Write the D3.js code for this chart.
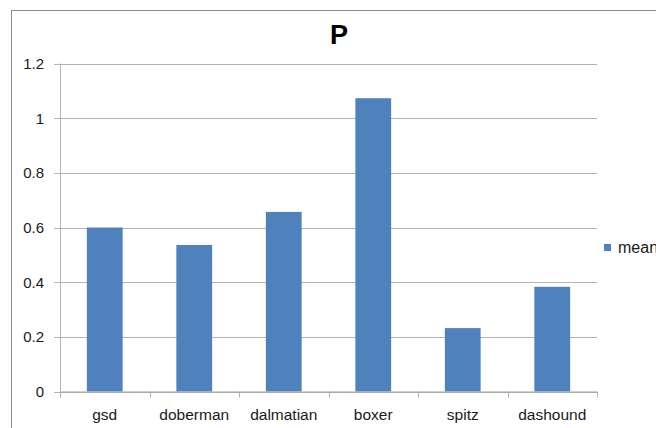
<!DOCTYPE html>
<html>
<head>
<meta charset="utf-8">
<script src="https://cdn.jsdelivr.net/npm/d3@7"></script>
<style>
  body { margin: 0; background: #fff; overflow: hidden; }
  svg { display: block; font-family: "Liberation Sans", Arial, sans-serif; }
</style>
</head>
<body>
<svg width="656" height="428"></svg>
<script>
const categories = ['gsd', 'doberman', 'dalmatian', 'boxer', 'spitz', 'dashound'];
const meanValues = [0.60, 0.536, 0.657, 1.073, 0.232, 0.383];
const yTicks = [0, 0.2, 0.4, 0.6, 0.8, 1, 1.2];
const seriesName = 'mean';
const title = 'P';

const svg = d3.select('svg');

// chart area border (runs off the right and bottom edges)
svg.append('rect')
  .attr('x', 11.5).attr('y', 10.5)
  .attr('width', 700).attr('height', 500)
  .attr('fill', 'none')
  .attr('stroke', '#8c8c8c')
  .attr('stroke-width', 1);

const plotLeft = 60, plotRight = 597, plotTop = 63.5, plotBottom = 391.5;

const x = d3.scaleBand()
  .domain(categories)
  .range([plotLeft, plotRight])
  .paddingInner(0.6)
  .paddingOuter(0.3);

const y = d3.scaleLinear()
  .domain([0, 1.2])
  .range([plotBottom, plotTop]);

// gridlines
svg.append('g')
  .selectAll('line')
  .data(yTicks)
  .enter()
  .append('line')
  .attr('x1', plotLeft - 6)
  .attr('x2', plotRight)
  .attr('y1', d => Math.round(y(d)) + 0.5)
  .attr('y2', d => Math.round(y(d)) + 0.5)
  .attr('stroke', '#b3b3b3');

// y labels
svg.append('g')
  .selectAll('text')
  .data(yTicks)
  .enter()
  .append('text')
  .attr('x', 44)
  .attr('y', d => y(d) + 5.5)
  .attr('text-anchor', 'end')
  .attr('font-size', 15)
  .attr('fill', '#1a1a1a')
  .text(d => d3.format('~g')(d));

// y axis line
svg.append('line')
  .attr('x1', plotLeft + 0.5).attr('x2', plotLeft + 0.5)
  .attr('y1', plotTop).attr('y2', plotBottom)
  .attr('stroke', '#b3b3b3');

// bars
svg.append('g')
  .selectAll('rect')
  .data(categories)
  .enter()
  .append('rect')
  .attr('x', d => x(d))
  .attr('y', (d, i) => y(meanValues[i]))
  .attr('width', x.bandwidth())
  .attr('height', (d, i) => plotBottom - y(meanValues[i]))
  .attr('fill', '#4f81bd');

// x axis
const step = (plotRight - plotLeft) / categories.length;
svg.append('g')
  .selectAll('line')
  .data(d3.range(categories.length + 1))
  .enter()
  .append('line')
  .attr('x1', i => Math.round(plotLeft + i * step) + 0.5)
  .attr('x2', i => Math.round(plotLeft + i * step) + 0.5)
  .attr('y1', plotBottom)
  .attr('y2', plotBottom + 6)
  .attr('stroke', '#b3b3b3');

svg.append('line')
  .attr('x1', plotLeft).attr('x2', plotRight)
  .attr('y1', plotBottom + 0.5).attr('y2', plotBottom + 0.5)
  .attr('stroke', '#a0a0a0');

svg.append('g')
  .selectAll('text')
  .data(categories)
  .enter()
  .append('text')
  .attr('x', d => x(d) + x.bandwidth() / 2)
  .attr('y', 420)
  .attr('text-anchor', 'middle')
  .attr('font-size', 15.5)
  .attr('fill', '#1a1a1a')
  .text(d => d);

// title
svg.append('text')
  .attr('x', 339)
  .attr('y', 44)
  .attr('text-anchor', 'middle')
  .attr('font-size', 27)
  .attr('font-weight', 'bold')
  .attr('fill', '#000')
  .text(title);

// legend (clipped at the right edge, as in the original)
svg.append('rect')
  .attr('x', 604).attr('y', 244)
  .attr('width', 7).attr('height', 7)
  .attr('fill', '#4f81bd');
svg.append('text')
  .attr('x', 618)
  .attr('y', 253)
  .attr('font-size', 16)
  .attr('fill', '#1a1a1a')
  .text(seriesName);
</script>
</body>
</html>
